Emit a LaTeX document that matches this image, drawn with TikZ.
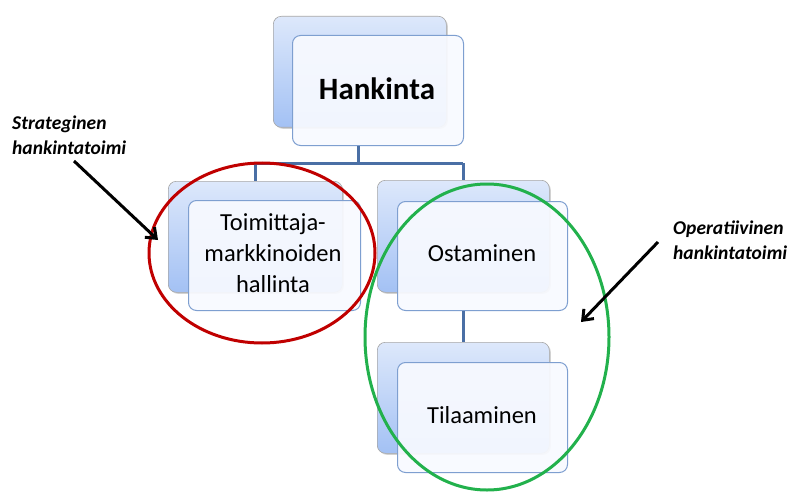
\documentclass[tikz,border=0pt]{standalone}
\usepackage{fontspec}
\setmainfont{Carlito}
\usetikzlibrary{shadows,arrows.meta,shapes.geometric}
\definecolor{conn}{HTML}{4A6FA5}
\definecolor{boxedge}{HTML}{7E9FD0}
\definecolor{backtop}{HTML}{DDE8FB}
\definecolor{backbot}{HTML}{A3C1F4}
\definecolor{frontfill}{HTML}{F8FAFF}
\definecolor{ringred}{HTML}{C00000}
\definecolor{ringgreen}{HTML}{22B14C}
\tikzset{
  backbox/.style={draw=gray!70, line width=0.6pt, rounded corners=8pt, top color=backtop, bottom color=backbot,
    drop shadow={shadow xshift=1.5pt, shadow yshift=-1.5pt, opacity=0.35}},
  frontbox/.style={draw=boxedge, line width=1pt, rounded corners=8pt, fill=frontfill, fill opacity=0.92, text opacity=1, align=center},
  connline/.style={draw=conn, line width=3pt},
  ring/.style={line width=3pt},
  pointer/.style={line width=3pt, -{Straight Barb[length=9pt,width=14pt,line width=3pt]}},
  remark/.style={font=\bfseries\itshape\fontsize{19.5}{25}\selectfont, align=left, anchor=north west, inner sep=0pt},
  boxtext/.style={font=\fontsize{24.5}{31}\selectfont, align=center}
}
\begin{document}
\begin{tikzpicture}[x=1pt,y=-1pt]
\useasboundingbox[fill=white] (0,0) rectangle (792,492);
\coordinate (hub) at (358,163);
\coordinate (lhub) at (255,163);
\coordinate (rhub) at (463,163);
% top
\node[backbox, minimum width=173, minimum height=111, anchor=north west] (hb) at (273,16) {};
\node[frontbox, minimum width=171, minimum height=110, anchor=north west] (hf) at (292,35) {};
\node[font=\bfseries\fontsize{31}{33}\selectfont] (ht) at (377,89) {Hankinta};
% left
\node[backbox, minimum width=174, minimum height=111, anchor=north west] (lb) at (168,181) {};
\node[frontbox, minimum width=172, minimum height=110, anchor=north west] (lf) at (188,200) {};
\node[boxtext] (lt) at (273,253) {Toimittaja-\\markkinoiden\\hallinta};
% right top
\node[backbox, minimum width=172, minimum height=112, anchor=north west] (ob) at (377,180) {};
\node[frontbox, minimum width=170, minimum height=109, anchor=north west] (of) at (397,201) {};
\node[boxtext] (ot) at (482,253) {Ostaminen};
% right bottom
\node[backbox, minimum width=172, minimum height=111, anchor=north west] (tb) at (377,342) {};
\node[frontbox, minimum width=170, minimum height=110, anchor=north west] (tf) at (397,362) {};
\node[boxtext] (tt) at (482,415) {Tilaaminen};
% connectors
\draw[connline] (hf.south -| hub) -- (hub);
\draw[connline] (lhub) -- (rhub);
\draw[connline] (lhub) -- (lhub |- lb.north);
\draw[connline] (rhub) -- (rhub |- ob.north);
\draw[connline] (of.south -| rhub) -- (rhub |- tb.north);
% rings
\node[draw=ringred, ring, ellipse, minimum width=226, minimum height=180, inner sep=0] (redring) at (262,253) {};
\node[draw=ringgreen, ring, ellipse, minimum width=244, minimum height=306, inner sep=0] (greenring) at (487,337) {};
% remarks
\node[remark] (sl) at (12,116) {Strateginen\\hankintatoimi};
\node[remark] (ol) at (673,221) {Operatiivinen\\hankintatoimi};
\coordinate (sa) at (74,161);
\coordinate (st) at (158,240);
\coordinate (oa) at (658,242);
\coordinate (ot2) at (581,322);
\draw[pointer] (sa) -- (st);
\draw[pointer] (oa) -- (ot2);
\end{tikzpicture}
\end{document}
